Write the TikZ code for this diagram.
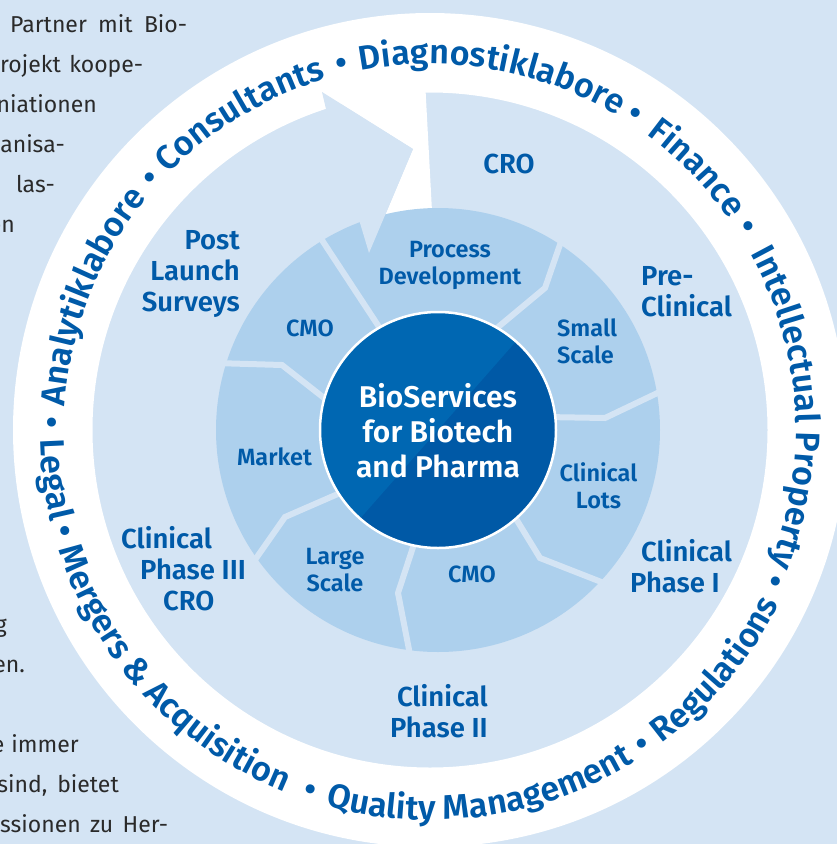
\documentclass[tikz,border=0pt]{standalone}
\usepackage{fontspec}
\IfFontExistsTF{Fira Sans SemiBold}{%
  \setmainfont{Fira Sans}[BoldFont={Fira Sans SemiBold}]}{%
  \setmainfont{Fira Sans}}
\usetikzlibrary{decorations.text}
\definecolor{bgblue}{RGB}{212,228,244}
\definecolor{secblue}{RGB}{173,208,237}
\definecolor{txtblue}{RGB}{0,90,168}
\definecolor{circA}{RGB}{0,103,178}
\definecolor{circB}{RGB}{0,89,166}
\definecolor{bodygray}{RGB}{42,42,42}
\newcommand\ringfont{\bfseries\fontsize{34}{34}\selectfont\color{txtblue}}
% clockwise text along the upper part of the ring, centred at angle #1
\newcommand\ringTop[2]{\path[decorate,decoration={text along path,text align=center,text={|\ringfont|#2}}]
  (430,-430) ++({#1+50}:366) arc[start angle={#1+50}, end angle={#1-50}, radius=366];}
% counter-clockwise text along the lower part of the ring, centred at angle #1
\newcommand\ringBot[2]{\path[decorate,decoration={text along path,text align=center,text={|\ringfont|#2}}]
  (430,-430) ++({#1-50}:390) arc[start angle={#1-50}, end angle={#1+50}, radius=390];}
\begin{document}
\begin{tikzpicture}[x=1pt,y=1pt,
  bodytxt/.style={font=\fontsize{23}{23}\selectfont, text=bodygray, inner sep=0pt},
  outerlab/.style={font=\bfseries\fontsize{27.5}{31}\selectfont, text=txtblue, inner sep=0pt, align=center},
  innerlab/.style={font=\bfseries\fontsize{23.5}{27}\selectfont, text=txtblue, inner sep=0pt, align=center},
  centerlab/.style={font=\bfseries\fontsize{30}{35}\selectfont, text=white, inner sep=0pt, align=center},
  stripe/.style={draw=bgblue, line width=6pt, line join=miter}]
\useasboundingbox (0,0) rectangle (837,-844);
\fill[bgblue] (0,0) rectangle (837,-844);

% body text of the page (clipped column)
\node[bodytxt, anchor=base west] (t1) at (10,-32) {\hbox to 177pt{Partner\hfill mit\hfill Bio-}};
\node[bodytxt, anchor=base west] (t2) at (0,-72) {\hbox to 143pt{rojekt\hfill koope-}};
\node[bodytxt, anchor=base east] (t3) at (97,-112) {niationen};
\node[bodytxt, anchor=base east] (t4) at (65,-152) {anisa-};
\node[bodytxt, anchor=base east] (t5) at (55,-192) {las-};
\node[bodytxt, anchor=base east] (t6) at (15,-232) {en};
\node[bodytxt, anchor=base east] (t7) at (7,-632) {g};
\node[bodytxt, anchor=base east] (t8) at (25,-672) {en.};
\node[bodytxt, anchor=base east] (t9) at (79,-752) {e\hspace{7pt}immer};
\node[bodytxt, anchor=base east] (t10) at (119,-792) {sind,\hspace{10pt}bietet};
\node[bodytxt, anchor=base west] (t11) at (0,-832) {\hbox to 168pt{ssionen\hfill zu\hfill Her-}};

% white ring
\fill[white, even odd rule] (430,-430) circle (417) (430,-430) circle (337.5);
% white gap in front of the arrow head
\fill[white] (322,-80) -- (322,-92) -- (413,-149) -- (379,-230) -- (433,-230) -- (425,-80) -- cycle;

% sector ring
\fill[secblue] (438,-430) circle (222);
\draw[stripe] (316,-231) -- (385,-336);
\draw[stripe] (564,-233) -- (545,-288) -- (485,-338);
\draw[stripe] (670,-387) -- (605,-418) -- (545,-417);
\draw[stripe] (510,-509) -- (540,-558) -- (609,-585);
\draw[stripe] (416,-538) -- (398,-593) -- (412,-665);
\draw[stripe] (347,-490) -- (285,-517) -- (250,-567);
\draw[stripe] (333,-405) -- (282,-365) -- (215,-363);

% arrow head of the outer band
\fill[bgblue] (326,-109) -- (322,-92) -- (413,-149) -- (369,-253) -- (360,-223) -- (330,-160) -- cycle;

% centre circle
\begin{scope}
  \clip (438,-430) circle (118);
  \fill[circB] (438,-430) circle (118);
  \fill[circA] (240,-655) -- (636,-205) -- (240,-205) -- cycle;
\end{scope}
\draw[white, line width=2.5pt] (438,-430) circle (118);
\node[centerlab] (center) at (438,-431) {BioServices\\for Biotech\\and Pharma};

% inner labels
\node[innerlab] (pd) at (450,-265) {Process\\Development};
\node[innerlab, anchor=west, align=left] (ss) at (557,-341) {Small\\Scale};
\node[innerlab] (cl) at (598.5,-486) {Clinical\\Lots};
\node[innerlab] (cmo2) at (472,-574) {CMO};
\node[innerlab] (ls) at (335,-570) {Large\\Scale};
\node[innerlab] (mk) at (274.5,-456.5) {Market};
\node[innerlab] (cmo1) at (310,-328.5) {CMO};

% outer band labels
\node[outerlab] (cro) at (509,-164) {CRO};
\node[outerlab, anchor=east, align=right] (post) at (240,-274) {Post\\Launch\\Surveys};
\node[outerlab, anchor=west, align=left] (pre) at (641,-292) {Pre-\\Clinical};
\node[outerlab, anchor=west, align=left] (ph1) at (630,-566) {\hspace*{11pt}Clinical\\Phase I};
\node[outerlab, anchor=east, align=right] (ph2) at (488,-711) {Clinical\\Phase II};
\node[outerlab, anchor=west, align=left] (ph3) at (121,-569) {Clinical\\\hspace*{19pt}Phase III\\\hspace*{42pt}CRO};

% ring text
\ringTop{158.5}{Analytiklabore}
\ringTop{138}{•}
\ringTop{121}{Consultants}
\ringTop{103.5}{•}
\ringTop{80}{Diagnostiklabore}
\ringTop{57}{•}
\ringTop{44.5}{Finance}
\ringTop{32.6}{•}
\ringTop{3.6}{Intellectual Property}
\ringTop{-23.6}{•}
\ringBot{178.8}{•}
\ringBot{187.5}{Legal}
\ringBot{195.5}{•}
\ringBot{223}{Mergers {\&} Acquisition}
\ringBot{251.6}{•}
\ringBot{278}{Quality Management}
\ringBot{304}{•}
\ringBot{320}{Regulations}
\end{tikzpicture}
\end{document}
